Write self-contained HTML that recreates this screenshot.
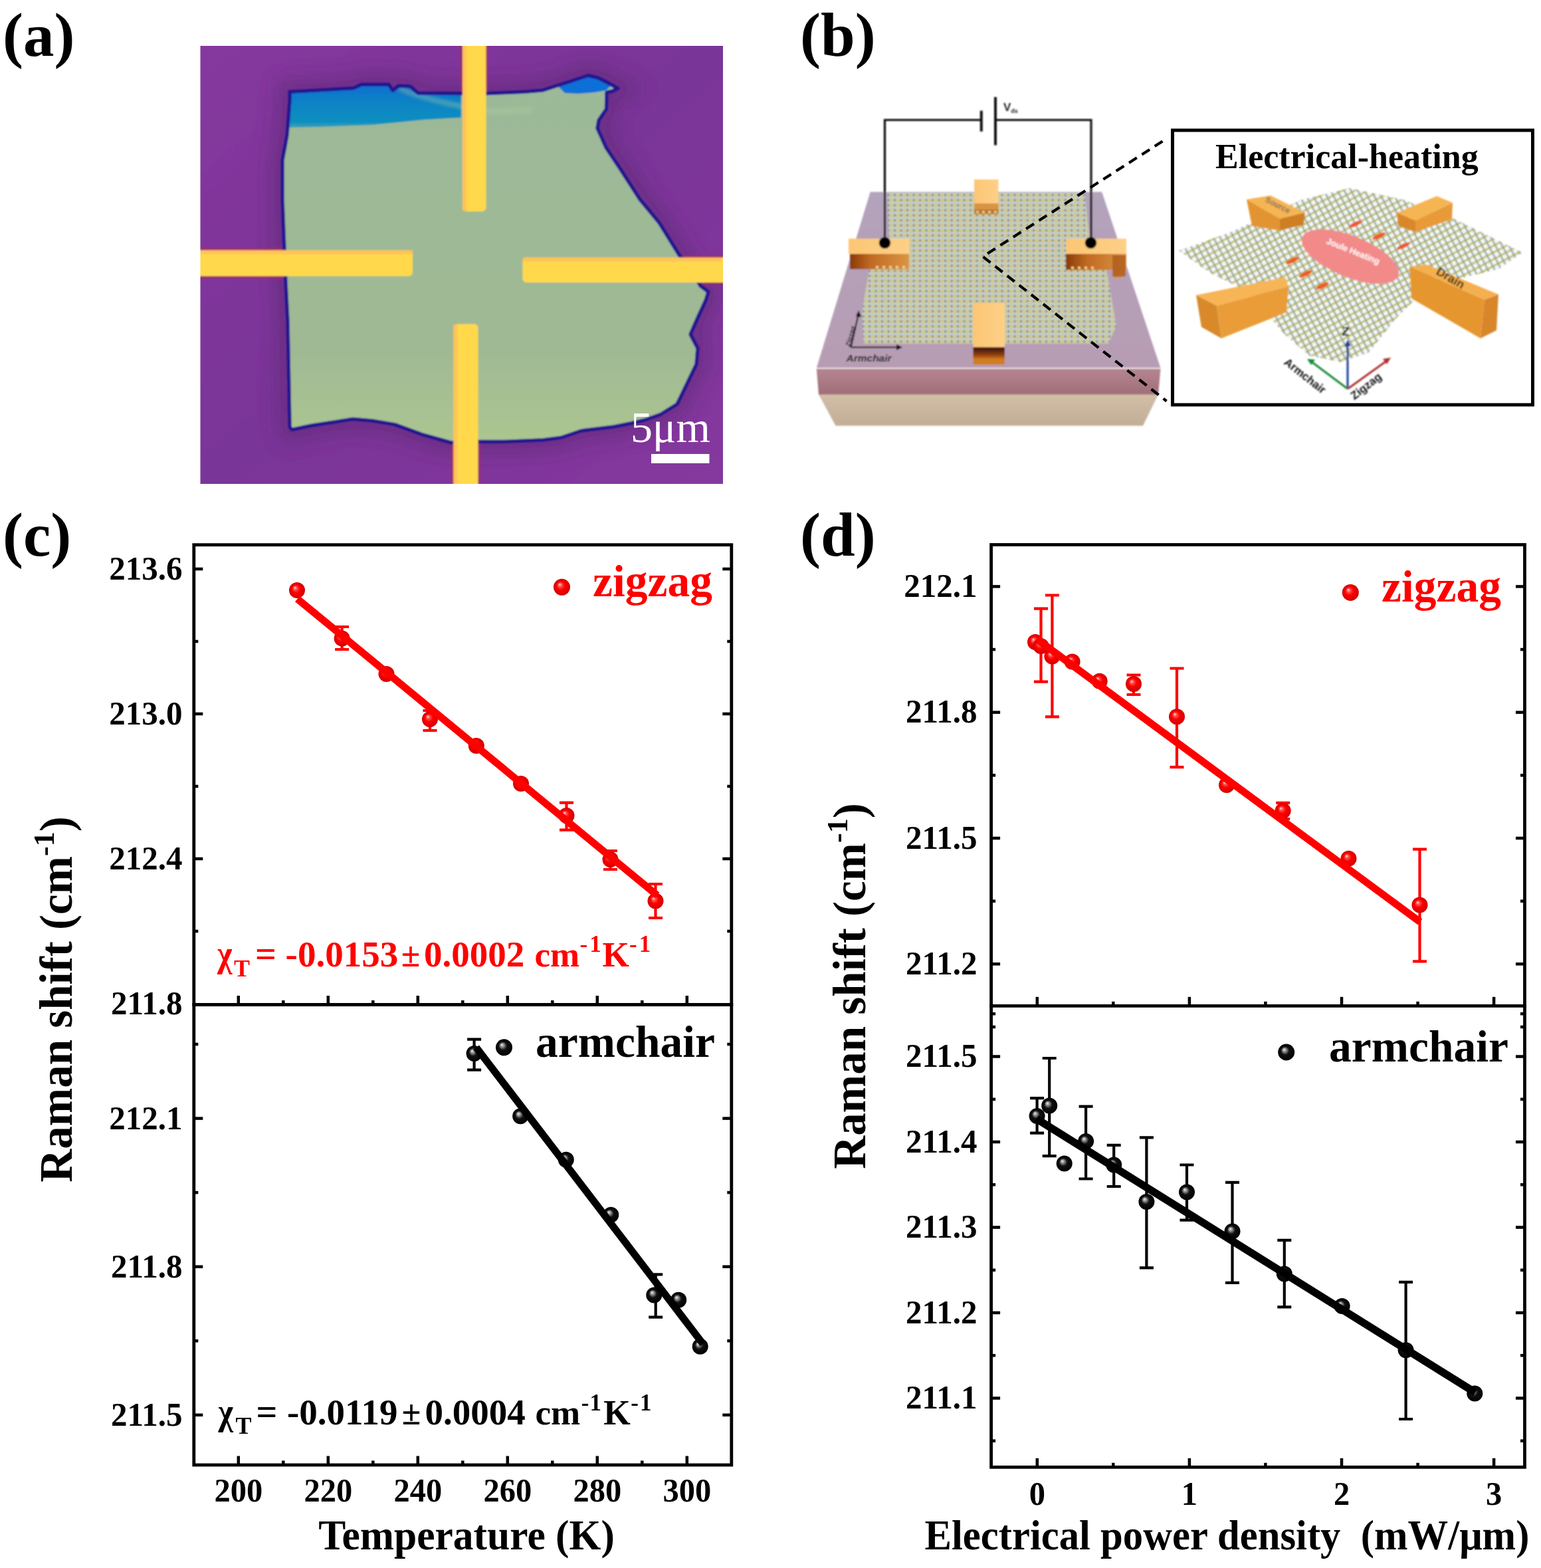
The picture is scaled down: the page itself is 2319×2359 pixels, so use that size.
<!DOCTYPE html>
<html><head><meta charset="utf-8"><title>Figure</title>
<style>html,body{margin:0;padding:0;background:#fff;width:2319px;height:2359px;overflow:hidden}</style>
</head><body>
<svg width="2319" height="2359" viewBox="0 0 2319 2359" style="display:block;font-family:'Liberation Serif','Times New Roman',serif;font-weight:bold">

<defs>
<radialGradient id="gR" cx="0.5" cy="0.5" r="0.5" fx="0.36" fy="0.33">
 <stop offset="0" stop-color="#ffe0e0"/><stop offset="0.22" stop-color="#ff5050"/>
 <stop offset="0.5" stop-color="#ff0000"/><stop offset="1" stop-color="#d00000"/>
</radialGradient>
<radialGradient id="gK" cx="0.5" cy="0.5" r="0.5" fx="0.36" fy="0.33">
 <stop offset="0" stop-color="#f0f0f0"/><stop offset="0.22" stop-color="#909090"/>
 <stop offset="0.5" stop-color="#101010"/><stop offset="1" stop-color="#000"/>
</radialGradient>
</defs>
<rect width="2319" height="2359" fill="#fff"/>
<text transform="translate(4.1,83.6)" font-size="93" text-anchor="start" fill="#000" >(a)</text>
<text transform="translate(1204.0,83.6)" font-size="93" text-anchor="start" fill="#000" >(b)</text>
<text transform="translate(4.1,835.6)" font-size="93" text-anchor="start" fill="#000" >(c)</text>
<text transform="translate(1204.0,835.6)" font-size="93" text-anchor="start" fill="#000" >(d)</text>
<defs>
<clipPath id="clA"><rect x="301.5" y="69" width="786.5" height="659"/></clipPath>
<clipPath id="clF"><polygon points="436,138 480,135.5 532,132.5 544,127 585,127 591,136 600,129 617,129.7 629,140 693,140.5 733,140.5 790,138 817,135.7 850,125 885,113.5 900,117 914,124 930,133 922,137 913,139 912.5,164 901,181 899,193 912,222 934,255 963,300 992,335 1023,385 1040,405 1054,430 1066,439 1062,452 1050,478 1039,503 1050,524 1048,548 1035,575 1019,608 994,623.5 970,632 949,637 924,642 875,648 844,658.5 817,662 759,664.5 720,664.5 679,666 635,653.6 594,638.6 560,633 531,630.5 503,635 470,640 439,646.5 436,642 433,485 429.5,416 425,300 425,241 432,203 436,150"/></clipPath>
<filter id="fA1" x="-2%" y="-2%" width="104%" height="104%"><feGaussianBlur stdDeviation="1.3"/></filter>
<filter id="fA8" x="-20%" y="-20%" width="140%" height="140%"><feGaussianBlur stdDeviation="14"/></filter>
<filter id="fA3" x="-20%" y="-20%" width="140%" height="140%"><feGaussianBlur stdDeviation="3"/></filter>
<linearGradient id="gPur" x1="0" y1="0" x2="1" y2="1">
 <stop offset="0" stop-color="#86389e"/><stop offset="0.5" stop-color="#7a3498"/><stop offset="1" stop-color="#86389f"/>
</linearGradient>
<linearGradient id="gFl" x1="0" y1="0" x2="0" y2="1">
 <stop offset="0" stop-color="#9cb998"/><stop offset="0.75" stop-color="#a0b995"/><stop offset="1" stop-color="#acc690"/>
</linearGradient>
<linearGradient id="gBl" x1="0" y1="0" x2="0" y2="1">
 <stop offset="0" stop-color="#0a6fd0"/><stop offset="0.5" stop-color="#0a86c4"/><stop offset="0.85" stop-color="#0a8ec0"/><stop offset="1" stop-color="#40a0b8"/>
</linearGradient>
</defs>
<g clip-path="url(#clA)">
<g filter="url(#fA1)">
<rect x="296.5" y="64" width="796.5" height="669" fill="url(#gPur)"/>
<polygon points="436,138 480,135.5 532,132.5 544,127 585,127 591,136 600,129 617,129.7 629,140 693,140.5 733,140.5 790,138 817,135.7 850,125 885,113.5 900,117 914,124 930,133 922,137 913,139 912.5,164 901,181 899,193 912,222 934,255 963,300 992,335 1023,385 1040,405 1054,430 1066,439 1062,452 1050,478 1039,503 1050,524 1048,548 1035,575 1019,608 994,623.5 970,632 949,637 924,642 875,648 844,658.5 817,662 759,664.5 720,664.5 679,666 635,653.6 594,638.6 560,633 531,630.5 503,635 470,640 439,646.5 436,642 433,485 429.5,416 425,300 425,241 432,203 436,150" fill="none" stroke="#5e2478" stroke-width="40" stroke-opacity="0.55" filter="url(#fA8)"/>
<g stroke="#a02a6a" stroke-width="3" fill="none" opacity="0.9">
<rect x="291.5" y="374" width="329.5" height="43.5"/>
<rect x="786" y="385.5" width="312" height="41"/>
<rect x="694" y="59" width="38.5" height="259"/>
<rect x="680.5" y="486" width="41" height="252"/>
</g>
<polygon points="436,138 480,135.5 532,132.5 544,127 585,127 591,136 600,129 617,129.7 629,140 693,140.5 733,140.5 790,138 817,135.7 850,125 885,113.5 900,117 914,124 930,133 922,137 913,139 912.5,164 901,181 899,193 912,222 934,255 963,300 992,335 1023,385 1040,405 1054,430 1066,439 1062,452 1050,478 1039,503 1050,524 1048,548 1035,575 1019,608 994,623.5 970,632 949,637 924,642 875,648 844,658.5 817,662 759,664.5 720,664.5 679,666 635,653.6 594,638.6 560,633 531,630.5 503,635 470,640 439,646.5 436,642 433,485 429.5,416 425,300 425,241 432,203 436,150" fill="url(#gFl)"/>
<g clip-path="url(#clF)"><polygon points="430,136 532,132.5 544,127 585,127 591,136 600,129 617,129.7 629,140 694,140 694,177 640,180 560,188 480,191 425,192" fill="url(#gBl)"/><polygon points="840,130 862,121 885,113 905,120 920,128 912,136 895,139 870,141 850,140" fill="#0a70d8"/><path d="M600 133 C640 150 690 160 740 168 L800 165" stroke="#b8d0a0" stroke-width="5" fill="none" opacity="0.6" filter="url(#fA3)"/></g>
<polygon points="436,138 480,135.5 532,132.5 544,127 585,127 591,136 600,129 617,129.7 629,140 693,140.5 733,140.5 790,138 817,135.7 850,125 885,113.5 900,117 914,124 930,133 922,137 913,139 912.5,164 901,181 899,193 912,222 934,255 963,300 992,335 1023,385 1040,405 1054,430 1066,439 1062,452 1050,478 1039,503 1050,524 1048,548 1035,575 1019,608 994,623.5 970,632 949,637 924,642 875,648 844,658.5 817,662 759,664.5 720,664.5 679,666 635,653.6 594,638.6 560,633 531,630.5 503,635 470,640 439,646.5 436,642 433,485 429.5,416 425,300 425,241 432,203 436,150" fill="none" stroke="#221490" stroke-width="5.5" stroke-linejoin="round"/>
<rect x="291.5" y="376.5" width="329.5" height="39" rx="6" fill="#ffd94c"/>
<rect x="786.5" y="387.5" width="312" height="37.5" rx="6" fill="#ffd94c"/>
<rect x="696" y="59" width="35.5" height="259" rx="6" fill="#ffd94c"/>
<rect x="682.5" y="487.5" width="37" height="251" rx="6" fill="#ffd94c"/>
<g fill="#ffbe5a" opacity="0.8"><rect x="696" y="69" width="6" height="248"/><rect x="682.5" y="488" width="6" height="240"/><rect x="301.5" y="376.5" width="320" height="6"/><rect x="786.5" y="387.5" width="300" height="6"/></g>
</g>
<rect x="980" y="683" width="87.5" height="14" fill="#fff"/>
<text x="949" y="665.3" font-size="66" font-weight="normal" fill="#fff" font-family="'Liberation Serif',serif">5&#956;m</text>
</g>
<defs>
<pattern id="latB" width="9.5" height="7.6" patternUnits="userSpaceOnUse">
 <rect width="9.5" height="7.6" fill="#cdc9b2"/>
 <path d="M0 1.6 H9.5" stroke="#b9d6dc" stroke-width="1.8"/>
 <path d="M2.4 1.6 V7.6 M7.1 1.6 V7.6" stroke="#a8c4cc" stroke-width="1.4"/>
 <circle cx="2.4" cy="4.6" r="1.9" fill="#e2c65a"/><circle cx="7.1" cy="4.6" r="1.6" fill="#7b7a66"/>
</pattern>
<pattern id="latI" width="9" height="9" patternUnits="userSpaceOnUse" patternTransform="rotate(-28)">
 <rect width="9" height="9" fill="#f6f8f0"/>
 <path d="M0 4.5 H9" stroke="#c4bc6a" stroke-width="2.8"/><path d="M4.5 0 V9" stroke="#8eb0c8" stroke-width="2.8"/>
 <circle cx="4.5" cy="4.5" r="1.8" fill="#b0a858"/>
</pattern>
<linearGradient id="gTop" x1="0" y1="0" x2="0" y2="1"><stop offset="0" stop-color="#b3a3bb"/><stop offset="1" stop-color="#b79db4"/></linearGradient>
<linearGradient id="gPink" x1="0" y1="0" x2="0" y2="1"><stop offset="0" stop-color="#b48592"/><stop offset="1" stop-color="#a06e78"/></linearGradient>
<linearGradient id="gBeige" x1="0" y1="0" x2="0" y2="1"><stop offset="0" stop-color="#d2bea6"/><stop offset="1" stop-color="#c2ae96"/></linearGradient>
<linearGradient id="gGoldF" x1="0" y1="0" x2="0" y2="1"><stop offset="0" stop-color="#f6b860"/><stop offset="1" stop-color="#d88a30"/></linearGradient>
<linearGradient id="gGoldT" x1="0" y1="0" x2="1" y2="1"><stop offset="0" stop-color="#ffd690"/><stop offset="1" stop-color="#f2b060"/></linearGradient>
<linearGradient id="gGoldS" x1="0" y1="0" x2="1" y2="0"><stop offset="0" stop-color="#c87020"/><stop offset="1" stop-color="#f0a040"/></linearGradient>
<filter id="fB1"><feGaussianBlur stdDeviation="0.8"/></filter>
<filter id="fB4" x="-30%" y="-30%" width="160%" height="160%"><feGaussianBlur stdDeviation="4"/></filter>
</defs>
<g filter="url(#fB1)">
<polygon points="1228.8,555 1746.5,555 1743,594 1232,594" fill="url(#gPink)"/>
<polygon points="1232,593.5 1743,593.5 1720,640.5 1257.5,640.5" fill="url(#gBeige)"/>
<polygon points="1309.7,288.8 1658.2,288.8 1746.5,553.5 1228.8,553.5" fill="url(#gTop)"/>
<polygon points="1335,290 1632,290 1640,360 1665,405 1680,490 1668,517 1300,517 1297,470 1308,405 1338,396 1338,360" fill="url(#latB)"/>
<linearGradient id="gEl" x1="0" y1="0" x2="1" y2="0"><stop offset="0" stop-color="#fcc674"/><stop offset="1" stop-color="#fdd088"/></linearGradient>
<linearGradient id="gElF" x1="0" y1="0" x2="1" y2="0"><stop offset="0" stop-color="#8a3a08"/><stop offset="0.35" stop-color="#c06a22"/><stop offset="1" stop-color="#dc9444"/></linearGradient>
<linearGradient id="gElD" x1="0" y1="0" x2="0" y2="1"><stop offset="0" stop-color="#3a1004"/><stop offset="0.6" stop-color="#8a3c0c"/><stop offset="1" stop-color="#d07a20"/></linearGradient>
<rect x="1466" y="270" width="36.5" height="36" fill="url(#gEl)"/><rect x="1466" y="306" width="36.5" height="9" fill="#d89444"/><rect x="1466" y="315" width="36.5" height="7" fill="#b87838"/>
<g fill="#f4d08a"><circle cx="1471" cy="319" r="2"/><circle cx="1480" cy="319" r="2"/><circle cx="1489" cy="319" r="2"/><circle cx="1498" cy="319" r="2"/></g>
<rect x="1277" y="359" width="91.5" height="23" fill="url(#gEl)"/><rect x="1279" y="382" width="89" height="23" fill="url(#gElF)"/>
<g fill="#f4d08a"><circle cx="1320" cy="402" r="2.2"/><circle cx="1330" cy="402" r="2.2"/><circle cx="1340" cy="402" r="2.2"/><circle cx="1350" cy="402" r="2.2"/><circle cx="1360" cy="402" r="2.2"/></g>
<rect x="1604" y="359" width="91" height="23" fill="url(#gEl)"/><polygon points="1604,382 1695,382 1695,404 1688,418 1676,418 1676,406 1604,406" fill="url(#gElF)"/><rect x="1674" y="384" width="20" height="32" fill="#a85418" opacity="0.7"/>
<g fill="#f4d08a"><circle cx="1614" cy="403" r="2.2"/><circle cx="1624" cy="403" r="2.2"/><circle cx="1634" cy="403" r="2.2"/><circle cx="1644" cy="403" r="2.2"/></g>
<rect x="1464.5" y="455.5" width="47.5" height="67" fill="url(#gEl)"/><rect x="1464.5" y="522.5" width="47.5" height="18" fill="url(#gElD)"/><rect x="1464.5" y="540" width="47.5" height="8.5" fill="#d27c22"/>
<g stroke="#111" stroke-width="3.2" fill="none"><path d="M1331.5 365 V180.5 H1476.5"/><path d="M1499 180.5 H1642 V365"/><path d="M1476.8 166.5 V197.8" stroke-width="4"/><path d="M1498 146 V218.5" stroke-width="4"/></g>
<circle cx="1331.5" cy="365.3" r="8.8" fill="#000"/><circle cx="1641.5" cy="365.3" r="8.8" fill="#000"/>
<text x="1510" y="166.5" style="font-family:'Liberation Sans',Arial,sans-serif;font-weight:bold" font-size="17" fill="#222">V<tspan font-size="9" dy="3">ds</tspan></text>
<g stroke="#111" stroke-width="2.2" fill="none"><path d="M1280.5 522.5 L1292 472"/><path d="M1280.5 522.5 H1352"/></g><polygon points="1292,467 1296.5,477 1288,476" fill="#111"/><polygon points="1358,522.5 1349,518 1349,527" fill="#111"/>
<text x="1273.5" y="543.5" style="font-family:'Liberation Sans',Arial,sans-serif;font-weight:bold;font-style:italic" font-size="15.5" fill="#111">Armchair</text>
<text transform="translate(1279,522) rotate(-75)" style="font-family:'Liberation Sans',Arial,sans-serif;font-weight:bold;font-style:italic" font-size="10" fill="#111">Zigzag</text>
</g>
<path d="M1749.5 212.5 L1479 386 L1755.5 603.5" stroke="#000" stroke-width="4.2" fill="none" stroke-dasharray="14 9"/>
<rect x="1764.5" y="196" width="542" height="413" fill="#fff" stroke="#000" stroke-width="5"/>
<g filter="url(#fB1)">
<polygon points="1774,377 1850,350 1960,300 2031,283 2110,300 2190,330 2291,380 2255,405 2150,430 2100,480 2060,530 2019,545 1970,535 1930,500 1880,440 1820,410" fill="url(#latI)"/>
<polygon points="1876,300 1912,294 1964,320 1926,329" fill="#f6b552"/>
<polygon points="1876,300 1926,329 1926,347 1884,340" fill="#e39432"/>
<polygon points="1926,329 1964,320 1962,338 1926,347" fill="#cf7f22"/>
<polygon points="2102,320 2162,295 2186,305 2130,332" fill="#f6b552"/>
<polygon points="2102,320 2130,332 2130,349 2104,340" fill="#d8882a"/>
<polygon points="2130,332 2186,305 2185,330 2130,349" fill="#e89a38"/>
<polygon points="1800,444 1934,417 1939,431 1831,460" fill="#f7b555"/>
<polygon points="1800,444 1831,460 1838,509 1808,492" fill="#d9892a"/>
<polygon points="1831,460 1939,431 1936,470 1838,509" fill="#ea9c38"/>
<polygon points="2121,401 2147,398 2255,443 2234,451" fill="#f4b050"/>
<polygon points="2121,401 2234,451 2228,509 2124,449" fill="#e5962f"/>
<polygon points="2234,451 2255,443 2252,497 2228,509" fill="#d8862a"/>
<text transform="translate(1903,303) rotate(27)" style="font-family:'Liberation Sans',Arial,sans-serif;font-weight:bold" font-size="12" fill="#7a6a60">Source</text>
<text transform="translate(2160,412) rotate(30)" style="font-family:'Liberation Sans',Arial,sans-serif;font-weight:bold" font-size="18" fill="#3a2818">Drain</text>
<ellipse cx="2032" cy="386" rx="78" ry="31" transform="rotate(22 2032 386)" fill="#f28a8a"/>
<text transform="translate(1995,366) rotate(22)" style="font-family:'Liberation Sans',Arial,sans-serif;font-weight:bold" font-size="13" fill="#fff">Joule Heating</text>
<ellipse cx="2040" cy="337" rx="11" ry="3.2" transform="rotate(-25 2040 337)" fill="#ee5a2a"/>
<ellipse cx="2075" cy="355" rx="11" ry="3.2" transform="rotate(-25 2075 355)" fill="#ee5a2a"/>
<ellipse cx="2112" cy="370" rx="11" ry="3.2" transform="rotate(-25 2112 370)" fill="#ee5a2a"/>
<ellipse cx="1945" cy="392" rx="11" ry="3.2" transform="rotate(-25 1945 392)" fill="#ee5a2a"/>
<ellipse cx="1965" cy="412" rx="11" ry="3.2" transform="rotate(-25 1965 412)" fill="#ee5a2a"/>
<ellipse cx="1990" cy="430" rx="11" ry="3.2" transform="rotate(-25 1990 430)" fill="#ee5a2a"/>
<g stroke-width="3" fill="none"><path d="M2028 585 V517" stroke="#1c3ea0"/><path d="M2028 585 L1972 543" stroke="#1a8a3a"/><path d="M2028 585 L2088 542" stroke="#b03030"/></g>
<polygon points="2028,511 2023,521 2033,521" fill="#1c3ea0"/><polygon points="1967,540 1979,541 1973,549" fill="#1a8a3a"/><polygon points="2093,538 2081,540 2087,548" fill="#b03030"/>
<text x="2019" y="505" style="font-family:'Liberation Sans',Arial,sans-serif;font-weight:bold" font-size="19" fill="#000">Z</text>
<text transform="translate(1931,547) rotate(38)" style="font-family:'Liberation Sans',Arial,sans-serif;font-weight:bold" font-size="17" fill="#111">Armchair</text>
<text transform="translate(2038,602) rotate(-38)" style="font-family:'Liberation Sans',Arial,sans-serif;font-weight:bold" font-size="17" fill="#111">Zigzag</text>
</g>
<text x="1829" y="253.2" font-size="52" font-weight="bold" font-family="'Liberation Serif',serif" fill="#000">Electrical-heating</text>
<g stroke="#000" stroke-width="4.8" fill="none" stroke-linecap="square"><rect x="291.8" y="819.7" width="809.0" height="1384.3"/><line x1="291.8" y1="1511.5" x2="1100.8" y2="1511.5"/></g>
<g stroke="#000" stroke-width="4.5"><line x1="291.8" y1="856.0" x2="305.3" y2="856.0"/><line x1="1100.8" y1="856.0" x2="1087.3" y2="856.0"/><line x1="291.8" y1="1074.0" x2="305.3" y2="1074.0"/><line x1="1100.8" y1="1074.0" x2="1087.3" y2="1074.0"/><line x1="291.8" y1="1292.0" x2="305.3" y2="1292.0"/><line x1="1100.8" y1="1292.0" x2="1087.3" y2="1292.0"/><line x1="291.8" y1="1682.6" x2="305.3" y2="1682.6"/><line x1="1100.8" y1="1682.6" x2="1087.3" y2="1682.6"/><line x1="291.8" y1="1905.7" x2="305.3" y2="1905.7"/><line x1="1100.8" y1="1905.7" x2="1087.3" y2="1905.7"/><line x1="291.8" y1="2128.8" x2="305.3" y2="2128.8"/><line x1="1100.8" y1="2128.8" x2="1087.3" y2="2128.8"/></g>
<g stroke="#000" stroke-width="4.5"><line x1="291.8" y1="965.0" x2="298.3" y2="965.0"/><line x1="1100.8" y1="965.0" x2="1094.3" y2="965.0"/><line x1="291.8" y1="1183.0" x2="298.3" y2="1183.0"/><line x1="1100.8" y1="1183.0" x2="1094.3" y2="1183.0"/><line x1="291.8" y1="1401.0" x2="298.3" y2="1401.0"/><line x1="1100.8" y1="1401.0" x2="1094.3" y2="1401.0"/><line x1="291.8" y1="1571.0" x2="298.3" y2="1571.0"/><line x1="1100.8" y1="1571.0" x2="1094.3" y2="1571.0"/><line x1="291.8" y1="1794.1" x2="298.3" y2="1794.1"/><line x1="1100.8" y1="1794.1" x2="1094.3" y2="1794.1"/><line x1="291.8" y1="2017.3" x2="298.3" y2="2017.3"/><line x1="1100.8" y1="2017.3" x2="1094.3" y2="2017.3"/></g>
<g stroke="#000" stroke-width="4.5"><line x1="358.8" y1="2204.0" x2="358.8" y2="2190.5"/><line x1="358.8" y1="1511.5" x2="358.8" y2="1498.0"/><line x1="493.8" y1="2204.0" x2="493.8" y2="2190.5"/><line x1="493.8" y1="1511.5" x2="493.8" y2="1498.0"/><line x1="628.8" y1="2204.0" x2="628.8" y2="2190.5"/><line x1="628.8" y1="1511.5" x2="628.8" y2="1498.0"/><line x1="763.8" y1="2204.0" x2="763.8" y2="2190.5"/><line x1="763.8" y1="1511.5" x2="763.8" y2="1498.0"/><line x1="898.8" y1="2204.0" x2="898.8" y2="2190.5"/><line x1="898.8" y1="1511.5" x2="898.8" y2="1498.0"/><line x1="1033.8" y1="2204.0" x2="1033.8" y2="2190.5"/><line x1="1033.8" y1="1511.5" x2="1033.8" y2="1498.0"/></g>
<g stroke="#000" stroke-width="4.5"><line x1="426.3" y1="2204.0" x2="426.3" y2="2197.5"/><line x1="426.3" y1="1511.5" x2="426.3" y2="1505.0"/><line x1="561.3" y1="2204.0" x2="561.3" y2="2197.5"/><line x1="561.3" y1="1511.5" x2="561.3" y2="1505.0"/><line x1="696.3" y1="2204.0" x2="696.3" y2="2197.5"/><line x1="696.3" y1="1511.5" x2="696.3" y2="1505.0"/><line x1="831.3" y1="2204.0" x2="831.3" y2="2197.5"/><line x1="831.3" y1="1511.5" x2="831.3" y2="1505.0"/><line x1="966.3" y1="2204.0" x2="966.3" y2="2197.5"/><line x1="966.3" y1="1511.5" x2="966.3" y2="1505.0"/></g>
<text transform="translate(274.5,872.0) scale(1.0,1.04)" font-size="49" text-anchor="end" fill="#000" >213.6</text>
<text transform="translate(274.5,1090.0) scale(1.0,1.04)" font-size="49" text-anchor="end" fill="#000" >213.0</text>
<text transform="translate(274.5,1308.0) scale(1.0,1.04)" font-size="49" text-anchor="end" fill="#000" >212.4</text>
<text transform="translate(274.5,1525.9) scale(1.0,1.04)" font-size="49" text-anchor="end" fill="#000" >211.8</text>
<text transform="translate(274.5,1698.6) scale(1.0,1.04)" font-size="49" text-anchor="end" fill="#000" >212.1</text>
<text transform="translate(274.5,1921.7) scale(1.0,1.04)" font-size="49" text-anchor="end" fill="#000" >211.8</text>
<text transform="translate(274.5,2144.8) scale(1.0,1.04)" font-size="49" text-anchor="end" fill="#000" >211.5</text>
<text transform="translate(358.8,2259.0) scale(1.0,1.04)" font-size="48.5" text-anchor="middle" fill="#000" >200</text>
<text transform="translate(493.8,2259.0) scale(1.0,1.04)" font-size="48.5" text-anchor="middle" fill="#000" >220</text>
<text transform="translate(628.8,2259.0) scale(1.0,1.04)" font-size="48.5" text-anchor="middle" fill="#000" >240</text>
<text transform="translate(763.8,2259.0) scale(1.0,1.04)" font-size="48.5" text-anchor="middle" fill="#000" >260</text>
<text transform="translate(898.8,2259.0) scale(1.0,1.04)" font-size="48.5" text-anchor="middle" fill="#000" >280</text>
<text transform="translate(1033.8,2259.0) scale(1.0,1.04)" font-size="48.5" text-anchor="middle" fill="#000" >300</text>
<text transform="translate(702.0,2330.5) scale(1.0,1.035)" font-size="61.5" text-anchor="middle" fill="#000" >Temperature (K)</text>
<text transform="translate(108,1503.5) rotate(-90)" font-size="69" text-anchor="middle">Raman shift (cm<tspan dy="-27" font-size="44">-1</tspan><tspan dy="27">)</tspan></text>
<circle cx="447.0" cy="888.0" r="12" fill="url(#gR)"/>
<path d="M514.6 943.0V977.0M504.1 943.0H525.1M504.1 977.0H525.1" stroke="#f00" stroke-width="4.2" fill="none"/>
<circle cx="514.6" cy="960.5" r="12" fill="url(#gR)"/>
<circle cx="581.5" cy="1014.0" r="12" fill="url(#gR)"/>
<path d="M647.0 1069.0V1099.0M636.5 1069.0H657.5M636.5 1099.0H657.5" stroke="#f00" stroke-width="4.2" fill="none"/>
<circle cx="647.0" cy="1082.0" r="12" fill="url(#gR)"/>
<circle cx="716.8" cy="1122.0" r="12" fill="url(#gR)"/>
<circle cx="784.0" cy="1179.0" r="12" fill="url(#gR)"/>
<path d="M852.5 1207.6V1248.7M842.0 1207.6H863.0M842.0 1248.7H863.0" stroke="#f00" stroke-width="4.2" fill="none"/>
<circle cx="852.5" cy="1227.0" r="12" fill="url(#gR)"/>
<path d="M918.5 1280.0V1308.0M908.0 1280.0H929.0M908.0 1308.0H929.0" stroke="#f00" stroke-width="4.2" fill="none"/>
<circle cx="918.5" cy="1293.0" r="12" fill="url(#gR)"/>
<path d="M986.5 1330.0V1381.0M976.0 1330.0H997.0M976.0 1381.0H997.0" stroke="#f00" stroke-width="4.2" fill="none"/>
<circle cx="986.5" cy="1355.5" r="12" fill="url(#gR)"/>
<line x1="447.5" y1="901" x2="989" y2="1347" stroke="#f00" stroke-width="11"/>
<path d="M713.6 1563.6V1609.6M703.1 1563.6H724.1M703.1 1609.6H724.1" stroke="#000" stroke-width="4.2" fill="none"/>
<circle cx="713.6" cy="1585.0" r="12" fill="url(#gK)"/>
<circle cx="783.2" cy="1679.3" r="12" fill="url(#gK)"/>
<circle cx="851.8" cy="1744.8" r="12" fill="url(#gK)"/>
<circle cx="919.3" cy="1827.7" r="12" fill="url(#gK)"/>
<path d="M986.7 1917.4V1981.7M976.2 1917.4H997.2M976.2 1981.7H997.2" stroke="#000" stroke-width="4.2" fill="none"/>
<circle cx="984.3" cy="1948.4" r="12" fill="url(#gK)"/>
<circle cx="1021.2" cy="1955.7" r="12" fill="url(#gK)"/>
<circle cx="1053.7" cy="2025.8" r="12" fill="url(#gK)"/>
<line x1="716.6" y1="1575.8" x2="1058" y2="2022" stroke="#000" stroke-width="11"/>
<circle cx="845.5" cy="883.3" r="12.5" fill="url(#gR)"/>
<text transform="translate(1072.0,896.8)" font-size="67.5" text-anchor="end" fill="#f00" >zigzag</text>
<circle cx="758.5" cy="1575.8" r="12.5" fill="url(#gK)"/>
<text transform="translate(1076.0,1589.9)" font-size="67.5" text-anchor="end" fill="#000" >armchair</text>
<g fill="#f00"><text transform="translate(327,1454.3) scale(0.86,1)" font-size="56">&#967;</text><text x="352" y="1469.3" font-size="36">T</text><text x="384" y="1454.3" font-size="56">=</text><text x="429.6" y="1454.3" font-size="55">-0.0153</text><text x="603.8" y="1454.3" font-size="52">&#177;</text><text x="637.9" y="1454.3" font-size="55">0.0002</text><text x="804.4" y="1454.3" font-size="53">cm</text><text x="872.6" y="1432.4" font-size="35">-</text><text x="887.2" y="1432.4" font-size="35">1</text><text x="906.5" y="1454.3" font-size="52">K</text><text x="947" y="1432.4" font-size="35">-</text><text x="961.7" y="1432.4" font-size="35">1</text></g>
<g fill="#000"><text transform="translate(328.5,2142.5) scale(0.86,1)" font-size="56">&#967;</text><text x="354.4" y="2157" font-size="36">T</text><text x="385.5" y="2142.5" font-size="56">=</text><text x="432" y="2142.5" font-size="55">-0.0119</text><text x="604.8" y="2142.5" font-size="52">&#177;</text><text x="639.5" y="2142.5" font-size="55">0.0004</text><text x="805.4" y="2142.5" font-size="53">cm</text><text x="874.7" y="2121.5" font-size="35">-</text><text x="887.4" y="2121.5" font-size="35">1</text><text x="908.3" y="2142.5" font-size="52">K</text><text x="949.3" y="2121.5" font-size="35">-</text><text x="963" y="2121.5" font-size="35">1</text></g>
<g stroke="#000" stroke-width="4.8" fill="none" stroke-linecap="square"><rect x="1491.6" y="819.5" width="802.9" height="1387.8"/><line x1="1491.6" y1="1513.3" x2="2294.5" y2="1513.3"/></g>
<g stroke="#000" stroke-width="4.5"><line x1="1491.6" y1="882.4" x2="1505.1" y2="882.4"/><line x1="2294.5" y1="882.4" x2="2281.0" y2="882.4"/><line x1="1491.6" y1="1071.7" x2="1505.1" y2="1071.7"/><line x1="2294.5" y1="1071.7" x2="2281.0" y2="1071.7"/><line x1="1491.6" y1="1261.0" x2="1505.1" y2="1261.0"/><line x1="2294.5" y1="1261.0" x2="2281.0" y2="1261.0"/><line x1="1491.6" y1="1450.3" x2="1505.1" y2="1450.3"/><line x1="2294.5" y1="1450.3" x2="2281.0" y2="1450.3"/><line x1="1491.6" y1="1589.5" x2="1505.1" y2="1589.5"/><line x1="2294.5" y1="1589.5" x2="2281.0" y2="1589.5"/><line x1="1491.6" y1="1718.0" x2="1505.1" y2="1718.0"/><line x1="2294.5" y1="1718.0" x2="2281.0" y2="1718.0"/><line x1="1491.6" y1="1846.5" x2="1505.1" y2="1846.5"/><line x1="2294.5" y1="1846.5" x2="2281.0" y2="1846.5"/><line x1="1491.6" y1="1975.0" x2="1505.1" y2="1975.0"/><line x1="2294.5" y1="1975.0" x2="2281.0" y2="1975.0"/><line x1="1491.6" y1="2103.5" x2="1505.1" y2="2103.5"/><line x1="2294.5" y1="2103.5" x2="2281.0" y2="2103.5"/></g>
<g stroke="#000" stroke-width="4.5"><line x1="1491.6" y1="977.1" x2="1498.1" y2="977.1"/><line x1="2294.5" y1="977.1" x2="2288.0" y2="977.1"/><line x1="1491.6" y1="1166.4" x2="1498.1" y2="1166.4"/><line x1="2294.5" y1="1166.4" x2="2288.0" y2="1166.4"/><line x1="1491.6" y1="1355.7" x2="1498.1" y2="1355.7"/><line x1="2294.5" y1="1355.7" x2="2288.0" y2="1355.7"/><line x1="1491.6" y1="1545.0" x2="1498.1" y2="1545.0"/><line x1="2294.5" y1="1545.0" x2="2288.0" y2="1545.0"/><line x1="1491.6" y1="1525.2" x2="1498.1" y2="1525.2"/><line x1="2294.5" y1="1525.2" x2="2288.0" y2="1525.2"/><line x1="1491.6" y1="1653.8" x2="1498.1" y2="1653.8"/><line x1="2294.5" y1="1653.8" x2="2288.0" y2="1653.8"/><line x1="1491.6" y1="1782.3" x2="1498.1" y2="1782.3"/><line x1="2294.5" y1="1782.3" x2="2288.0" y2="1782.3"/><line x1="1491.6" y1="1910.8" x2="1498.1" y2="1910.8"/><line x1="2294.5" y1="1910.8" x2="2288.0" y2="1910.8"/><line x1="1491.6" y1="2039.2" x2="1498.1" y2="2039.2"/><line x1="2294.5" y1="2039.2" x2="2288.0" y2="2039.2"/><line x1="1491.6" y1="2167.7" x2="1498.1" y2="2167.7"/><line x1="2294.5" y1="2167.7" x2="2288.0" y2="2167.7"/></g>
<g stroke="#000" stroke-width="4.5"><line x1="1560.8" y1="2207.3" x2="1560.8" y2="2193.8"/><line x1="1560.8" y1="1513.3" x2="1560.8" y2="1499.8"/><line x1="1789.9" y1="2207.3" x2="1789.9" y2="2193.8"/><line x1="1789.9" y1="1513.3" x2="1789.9" y2="1499.8"/><line x1="2019.0" y1="2207.3" x2="2019.0" y2="2193.8"/><line x1="2019.0" y1="1513.3" x2="2019.0" y2="1499.8"/><line x1="2248.1" y1="2207.3" x2="2248.1" y2="2193.8"/><line x1="2248.1" y1="1513.3" x2="2248.1" y2="1499.8"/></g>
<g stroke="#000" stroke-width="4.5"><line x1="1675.3" y1="2207.3" x2="1675.3" y2="2200.8"/><line x1="1675.3" y1="1513.3" x2="1675.3" y2="1506.8"/><line x1="1904.4" y1="2207.3" x2="1904.4" y2="2200.8"/><line x1="1904.4" y1="1513.3" x2="1904.4" y2="1506.8"/><line x1="2133.6" y1="2207.3" x2="2133.6" y2="2200.8"/><line x1="2133.6" y1="1513.3" x2="2133.6" y2="1506.8"/></g>
<text transform="translate(1470.5,897.9) scale(1.0,1.04)" font-size="49" text-anchor="end" fill="#000" >212.1</text>
<text transform="translate(1470.5,1087.2) scale(1.0,1.04)" font-size="49" text-anchor="end" fill="#000" >211.8</text>
<text transform="translate(1470.5,1276.5) scale(1.0,1.04)" font-size="49" text-anchor="end" fill="#000" >211.5</text>
<text transform="translate(1470.5,1465.8) scale(1.0,1.04)" font-size="49" text-anchor="end" fill="#000" >211.2</text>
<text transform="translate(1470.5,1605.0) scale(1.0,1.04)" font-size="49" text-anchor="end" fill="#000" >211.5</text>
<text transform="translate(1470.5,1733.5) scale(1.0,1.04)" font-size="49" text-anchor="end" fill="#000" >211.4</text>
<text transform="translate(1470.5,1862.0) scale(1.0,1.04)" font-size="49" text-anchor="end" fill="#000" >211.3</text>
<text transform="translate(1470.5,1990.5) scale(1.0,1.04)" font-size="49" text-anchor="end" fill="#000" >211.2</text>
<text transform="translate(1470.5,2119.0) scale(1.0,1.04)" font-size="49" text-anchor="end" fill="#000" >211.1</text>
<text transform="translate(1560.8,2264.0) scale(1.0,1.04)" font-size="48.5" text-anchor="middle" fill="#000" >0</text>
<text transform="translate(1789.9,2264.0) scale(1.0,1.04)" font-size="48.5" text-anchor="middle" fill="#000" >1</text>
<text transform="translate(2019.0,2264.0) scale(1.0,1.04)" font-size="48.5" text-anchor="middle" fill="#000" >2</text>
<text transform="translate(2248.1,2264.0) scale(1.0,1.04)" font-size="48.5" text-anchor="middle" fill="#000" >3</text>
<text transform="translate(1391.5,2330.6) scale(1.0,1.045)" font-size="60.7" text-anchor="start" fill="#000" >Electrical power density&#160; (mW/&#956;m)</text>
<text transform="translate(1302,1483.5) rotate(-90)" font-size="69" text-anchor="middle">Raman shift (cm<tspan dy="-27" font-size="44">-1</tspan><tspan dy="27">)</tspan></text>
<circle cx="1558.0" cy="966.0" r="12" fill="url(#gR)"/>
<path d="M1566.5 915.6V1025.6M1556.0 915.6H1577.0M1556.0 1025.6H1577.0" stroke="#f00" stroke-width="4.2" fill="none"/>
<circle cx="1566.5" cy="972.0" r="12" fill="url(#gR)"/>
<path d="M1583.4 895.5V1078.3M1572.9 895.5H1593.9M1572.9 1078.3H1593.9" stroke="#f00" stroke-width="4.2" fill="none"/>
<circle cx="1583.4" cy="987.5" r="12" fill="url(#gR)"/>
<circle cx="1613.6" cy="995.4" r="12" fill="url(#gR)"/>
<circle cx="1654.7" cy="1024.8" r="12" fill="url(#gR)"/>
<path d="M1706.0 1015.5V1045.0M1695.5 1015.5H1716.5M1695.5 1045.0H1716.5" stroke="#f00" stroke-width="4.2" fill="none"/>
<circle cx="1706.0" cy="1029.0" r="12" fill="url(#gR)"/>
<path d="M1771.0 1005.5V1154.2M1760.5 1005.5H1781.5M1760.5 1154.2H1781.5" stroke="#f00" stroke-width="4.2" fill="none"/>
<circle cx="1771.0" cy="1078.3" r="12" fill="url(#gR)"/>
<circle cx="1846.0" cy="1181.0" r="12" fill="url(#gR)"/>
<path d="M1930.7 1207.9V1232.0M1920.2 1207.9H1941.2M1920.2 1232.0H1941.2" stroke="#f00" stroke-width="4.2" fill="none"/>
<circle cx="1930.7" cy="1219.8" r="12" fill="url(#gR)"/>
<circle cx="2029.5" cy="1291.7" r="12" fill="url(#gR)"/>
<path d="M2136.5 1277.7V1446.4M2126.0 1277.7H2147.0M2126.0 1446.4H2147.0" stroke="#f00" stroke-width="4.2" fill="none"/>
<circle cx="2136.5" cy="1361.5" r="12" fill="url(#gR)"/>
<line x1="1561" y1="962" x2="2137" y2="1387" stroke="#f00" stroke-width="11"/>
<path d="M1560.6 1652.2V1704.7M1550.1 1652.2H1571.1M1550.1 1704.7H1571.1" stroke="#000" stroke-width="4.2" fill="none"/>
<circle cx="1560.6" cy="1678.9" r="12" fill="url(#gK)"/>
<path d="M1579.2 1592.0V1739.1M1568.7 1592.0H1589.7M1568.7 1739.1H1589.7" stroke="#000" stroke-width="4.2" fill="none"/>
<circle cx="1579.2" cy="1663.6" r="12" fill="url(#gK)"/>
<circle cx="1601.7" cy="1750.6" r="12" fill="url(#gK)"/>
<path d="M1634.1 1664.6V1773.5M1623.6 1664.6H1644.6M1623.6 1773.5H1644.6" stroke="#000" stroke-width="4.2" fill="none"/>
<circle cx="1634.1" cy="1717.1" r="12" fill="url(#gK)"/>
<path d="M1676.2 1722.9V1785.0M1665.7 1722.9H1686.7M1665.7 1785.0H1686.7" stroke="#000" stroke-width="4.2" fill="none"/>
<circle cx="1676.2" cy="1752.5" r="12" fill="url(#gK)"/>
<path d="M1725.4 1711.4V1907.3M1714.9 1711.4H1735.9M1714.9 1907.3H1735.9" stroke="#000" stroke-width="4.2" fill="none"/>
<circle cx="1725.4" cy="1807.9" r="12" fill="url(#gK)"/>
<path d="M1786.0 1752.5V1835.6M1775.5 1752.5H1796.5M1775.5 1835.6H1796.5" stroke="#000" stroke-width="4.2" fill="none"/>
<circle cx="1786.0" cy="1793.6" r="12" fill="url(#gK)"/>
<path d="M1854.5 1778.8V1929.9M1844.0 1778.8H1865.0M1844.0 1929.9H1865.0" stroke="#000" stroke-width="4.2" fill="none"/>
<circle cx="1854.5" cy="1852.6" r="12" fill="url(#gK)"/>
<path d="M1932.8 1865.9V1966.3M1922.3 1865.9H1943.3M1922.3 1966.3H1943.3" stroke="#000" stroke-width="4.2" fill="none"/>
<circle cx="1932.8" cy="1916.6" r="12" fill="url(#gK)"/>
<circle cx="2019.6" cy="1965.1" r="12" fill="url(#gK)"/>
<path d="M2115.6 1928.8V2135.0M2105.1 1928.8H2126.1M2105.1 2135.0H2126.1" stroke="#000" stroke-width="4.2" fill="none"/>
<circle cx="2115.6" cy="2031.3" r="12" fill="url(#gK)"/>
<circle cx="2219.3" cy="2096.4" r="12" fill="url(#gK)"/>
<line x1="1560" y1="1683.3" x2="2220" y2="2095" stroke="#000" stroke-width="11.5"/>
<circle cx="2032.3" cy="891.4" r="12.5" fill="url(#gR)"/>
<text transform="translate(2259.0,905.1)" font-size="67.5" text-anchor="end" fill="#f00" >zigzag</text>
<circle cx="1935.7" cy="1583.0" r="12.5" fill="url(#gK)"/>
<text transform="translate(2270.0,1597.2)" font-size="67.5" text-anchor="end" fill="#000" >armchair</text>
</svg>
</body></html>
